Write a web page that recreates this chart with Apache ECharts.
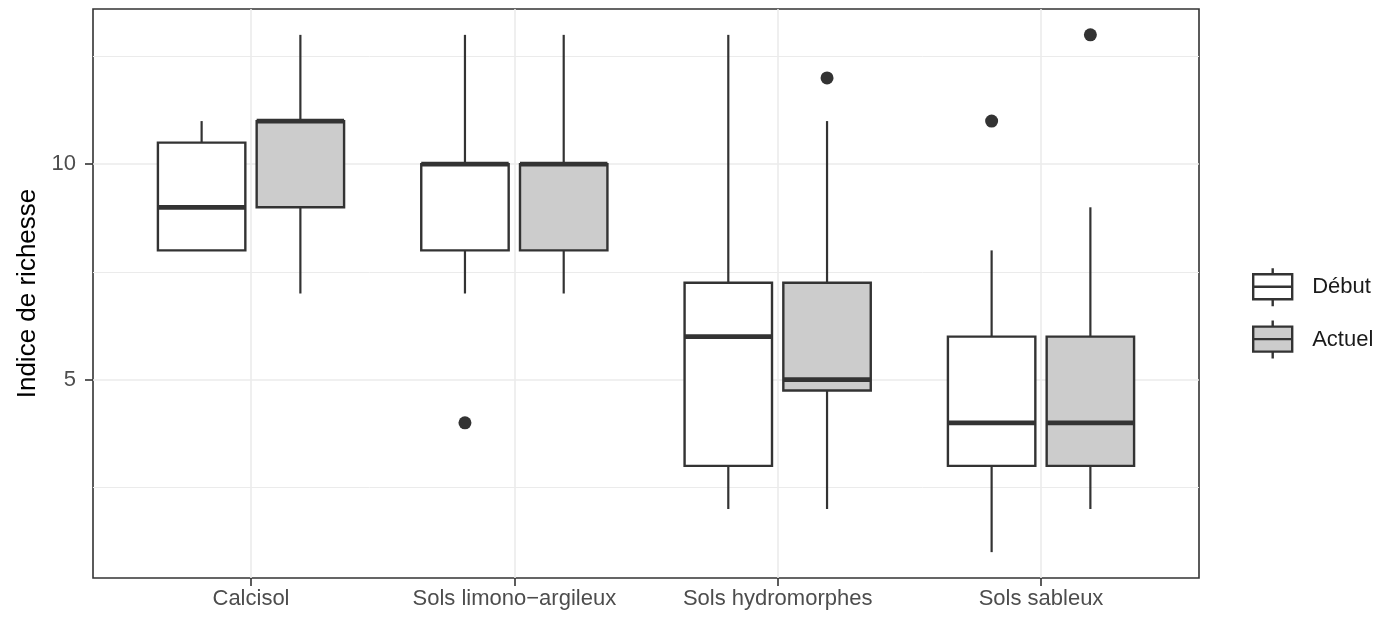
<!DOCTYPE html>
<html>
<head>
<meta charset="utf-8">
<script src="https://cdn.jsdelivr.net/npm/echarts@6/dist/echarts.min.js"></script>
<style>
  html, body { margin: 0; padding: 0; background: #ffffff; }
  #chart { width: 1374px; height: 617px; }
</style>
</head>
<body>
<div id="chart"></div>
<script>
// ---- data ----
const categories = ['Calcisol', 'Sols limono\u2212argileux', 'Sols hydromorphes', 'Sols sableux'];
const groups = ['Début', 'Actuel'];
// [lower whisker, Q1, median, Q3, upper whisker]
const debutStats = [
  [8, 8, 9, 10.5, 11],
  [7, 8, 10, 10, 13],
  [2, 3, 6, 7.25, 13],
  [1, 3, 4, 6, 8]
];
const actuelStats = [
  [7, 9, 11, 11, 13],
  [7, 8, 10, 10, 13],
  [2, 4.75, 5, 7.25, 11],
  [2, 3, 4, 6, 9]
];
// [category number (1-based), value]
const debutOutliers = [[2, 4], [4, 11]];
const actuelOutliers = [[3, 12], [4, 13]];
const yTicks = [5, 10];
const yMinorTicks = [2.5, 7.5, 12.5];
const yTitle = 'Indice de richesse';

// ---- styling constants ----
const DODGE = 0.1875;   // half of dodge width, in category units
const HALF = 0.166;     // half box width, in category units
const LINE = '#333333';
const FILLS = ['#ffffff', '#cccccc'];

function boxRender(offset, fill) {
  return function (params, api) {
    const x = api.value(0) + offset;
    const lo = api.value(1), q1 = api.value(2), med = api.value(3), q3 = api.value(4), hi = api.value(5);
    const tl = api.coord([x - HALF, q3]);
    const br = api.coord([x + HALF, q1]);
    const m = api.coord([x, med]);
    const top = api.coord([x, hi]);
    const bot = api.coord([x, lo]);
    return {
      type: 'group',
      children: [
        { type: 'line', shape: { x1: m[0], y1: top[1], x2: m[0], y2: tl[1] }, style: { stroke: LINE, lineWidth: 2.2 } },
        { type: 'line', shape: { x1: m[0], y1: br[1], x2: m[0], y2: bot[1] }, style: { stroke: LINE, lineWidth: 2.2 } },
        { type: 'rect', shape: { x: tl[0], y: tl[1], width: br[0] - tl[0], height: br[1] - tl[1] },
          style: { fill: fill, stroke: LINE, lineWidth: 2.4 } },
        { type: 'line', shape: { x1: tl[0], y1: m[1], x2: br[0], y2: m[1] }, style: { stroke: LINE, lineWidth: 4.8 } }
      ]
    };
  };
}
function outlierRender(offset) {
  return function (params, api) {
    const p = api.coord([api.value(0) + offset, api.value(1)]);
    return { type: 'circle', shape: { cx: p[0], cy: p[1], r: 6.5 }, style: { fill: LINE } };
  };
}

const boxData = (stats) => stats.map((s, i) => [i + 1].concat(s));
const legendIcon = 'path://M0,6L39,6L39,31L0,31ZM19.5,0L19.5,6M19.5,31L19.5,38M0,18.5L39,18.5';

const chart = echarts.init(document.getElementById('chart'), null, { renderer: 'canvas' });
chart.setOption({
  animation: false,
  backgroundColor: '#ffffff',
  grid: { left: 93, right: 175, top: 9, bottom: 39, show: true, borderColor: LINE, borderWidth: 1.6, backgroundColor: 'transparent' },
  legend: {
    orient: 'vertical', left: 1252, top: 267, padding: 0,
    itemWidth: 39, itemHeight: 38, itemGap: 12,
    selectedMode: false,
    textStyle: { fontFamily: 'Liberation Sans, Arial, sans-serif', fontSize: 22, color: '#1a1a1a', padding: [0, 0, 0, 15] },
    data: [
      { name: groups[0], icon: legendIcon, itemStyle: { color: FILLS[0], borderColor: LINE, borderWidth: 2.4 } },
      { name: groups[1], icon: legendIcon, itemStyle: { color: FILLS[1], borderColor: LINE, borderWidth: 2.4 } }
    ]
  },
  xAxis: {
    type: 'value', min: 0.4, max: 4.6,
    axisLine: { show: false },
    axisTick: { show: true, customValues: [1, 2, 3, 4], length: 8, lineStyle: { color: LINE, width: 1.6 } },
    axisLabel: {
      customValues: [1, 2, 3, 4], margin: 10,
      formatter: (v) => categories[Math.round(v) - 1] || '',
      fontFamily: 'Liberation Sans, Arial, sans-serif', fontSize: 22, color: '#4d4d4d'
    },
    splitLine: { show: true, lineStyle: { color: '#ebebeb', width: 1.6 } }
  },
  yAxis: [
    {
      type: 'value', min: 0.4, max: 13.6,
      name: yTitle, nameLocation: 'middle', nameGap: 50, nameRotate: 90,
      nameTextStyle: { fontFamily: 'Liberation Sans, Arial, sans-serif', fontSize: 26, color: '#000000' },
      axisLine: { show: false },
      axisTick: { show: true, customValues: yTicks, length: 8, lineStyle: { color: LINE, width: 1.6 } },
      axisLabel: { customValues: yTicks, margin: 17, fontFamily: 'Liberation Sans, Arial, sans-serif', fontSize: 22, color: '#4d4d4d' },
      splitLine: { show: true, lineStyle: { color: '#ebebeb', width: 1.6 } }
    },
    {
      type: 'value', min: 0.4, max: 13.6, position: 'left',
      axisLine: { show: false },
      axisTick: { show: false, customValues: yMinorTicks },
      axisLabel: { show: false, customValues: yMinorTicks },
      splitLine: { show: true, lineStyle: { color: '#ebebeb', width: 1 } }
    }
  ],
  series: [
    { name: groups[0], type: 'custom', renderItem: boxRender(-DODGE, FILLS[0]), data: boxData(debutStats),
      encode: { x: 0, y: [1, 2, 3, 4, 5] }, itemStyle: { color: FILLS[0], borderColor: LINE }, z: 3 },
    { name: groups[1], type: 'custom', renderItem: boxRender(DODGE, FILLS[1]), data: boxData(actuelStats),
      encode: { x: 0, y: [1, 2, 3, 4, 5] }, itemStyle: { color: FILLS[1], borderColor: LINE }, z: 3 },
    { name: groups[0], type: 'custom', renderItem: outlierRender(-DODGE), data: debutOutliers,
      encode: { x: 0, y: 1 }, itemStyle: { color: FILLS[0], borderColor: LINE }, z: 4 },
    { name: groups[1], type: 'custom', renderItem: outlierRender(DODGE), data: actuelOutliers,
      encode: { x: 0, y: 1 }, itemStyle: { color: FILLS[1], borderColor: LINE }, z: 4 }
  ]
});
</script>
</body>
</html>
